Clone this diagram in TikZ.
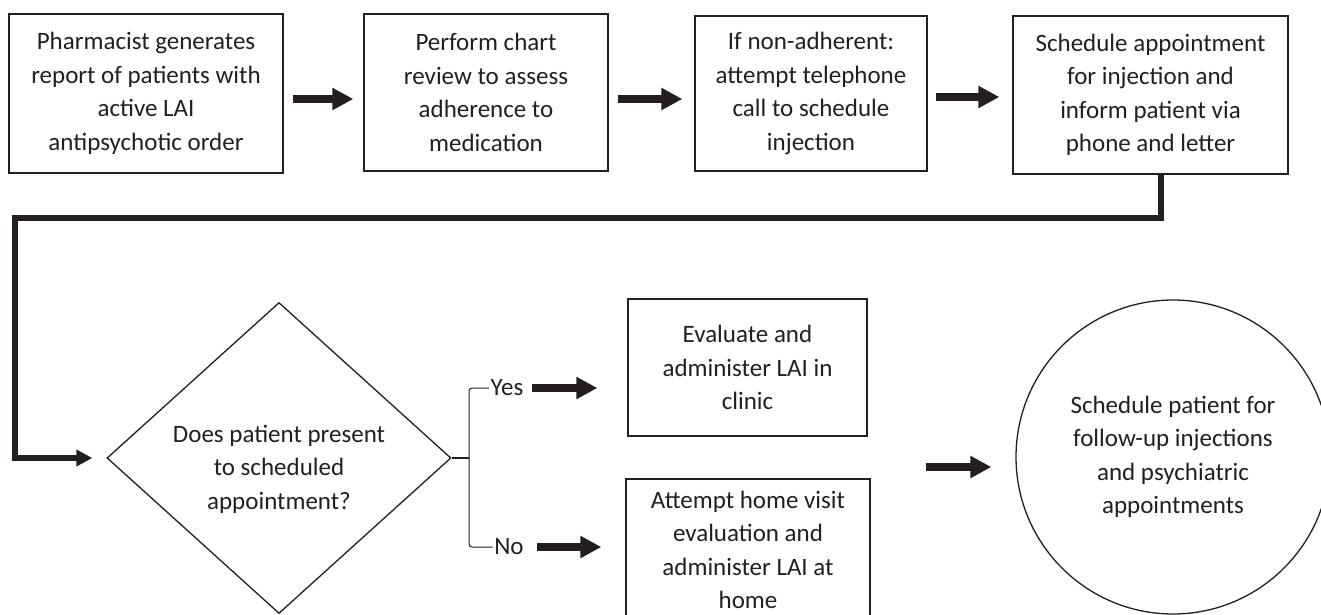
\documentclass[tikz,border=0pt]{standalone}
\usepackage{fontspec}
\setmainfont{Carlito}
\usetikzlibrary{arrows.meta,shapes.geometric}
\definecolor{ink}{RGB}{35,31,32}

\begin{document}
\begin{tikzpicture}[x=1pt,y=-1pt,
    every node/.style={font=\fontsize{25}{33.5}\selectfont, text=ink, align=center},
    stepbox/.style={draw=ink, line width=1.3pt, inner sep=0pt},
    decision/.style={diamond, draw=ink, line width=1.3pt, inner sep=0pt, minimum width=344pt, minimum height=311pt},
    goal/.style={circle, draw=ink, line width=1.3pt, inner sep=0pt, minimum size=314pt},
    fat/.style={draw=ink, line width=7.5pt, -{Triangle[length=21pt,width=21pt]}, shorten <=9pt, shorten >=10pt},
    link/.style={draw=ink, line width=5.5pt, -{Triangle[length=16pt,width=16pt]}, line join=miter},
    fork/.style={draw=ink, line width=1pt, rounded corners=3pt}]
    \useasboundingbox (0,0) rectangle (1321,614);
    \clip (0,0) rectangle (1321,614);
    % top row
    \node [stepbox, minimum width=274pt, minimum height=159pt] (report) at (146,93.5) {Pharmacist generates\\report of patients with\\active LAI\\antipsychotic order};
    \node [stepbox, minimum width=244pt, minimum height=157pt] (review) at (486,92.5) {Perform chart\\review to assess\\adherence to\\medication};
    \node [stepbox, minimum width=232pt, minimum height=155pt] (phonecall) at (811,93.5) {If non-adherent:\\attempt telephone\\call to schedule\\injection};
    \node [stepbox, minimum width=275pt, minimum height=158pt] (notify) at (1150.5,95) {Schedule appointment\\for injection and\\inform patient via\\phone and letter};
    \draw [fat] ([yshift=-5.5pt]report.east) -- ([yshift=-6.5pt]review.west);
    \draw [fat, shorten >=12pt] ([yshift=-6.5pt]review.east) -- ([yshift=-5.5pt]phonecall.west);
    \draw [fat, shorten <=8pt, shorten >=13pt] ([yshift=-3.5pt]phonecall.east) -- ([yshift=-2pt]notify.west);
    % decision
    \node [decision] (present) at (279,458) {};
    \node (presentq) at (279,469) {Does patient present\\to scheduled\\appointment?};
    \coordinate (turn) at (15,218);
    \draw [link, shorten >=14pt] ([xshift=10.5pt]notify.south) |- (turn) |- (present.west);
    \node [inner sep=1.5pt] (yes) at (507,388) {Yes};
    \node [inner sep=1.5pt] (no) at (509,547) {No};
    \coordinate (split) at (469,458);
    \draw [draw=ink, line width=2pt] (present.east) -- (split);
    \draw [fork] (yes.west) -| (split) |- (no.west);
    % outcomes
    \node [stepbox, minimum width=239pt, minimum height=137pt] (clinic) at (747.5,367.5) {Evaluate and\\administer LAI in\\clinic};
    \node [stepbox, minimum width=244pt, minimum height=142pt] (home) at (748,550) {Attempt home visit\\evaluation and\\administer LAI at\\home};
    \draw [fat, shorten <=7pt, shorten >=30pt] (yes.east) -- (yes.east -| clinic.west);
    \draw [fat, shorten <=12pt, shorten >=24pt] (no.east) -- (no.east -| home.west);
    \node [goal] (followup) at (1173,457) {Schedule patient for\\follow-up injections\\and psychiatric\\appointments};
    \coordinate (join) at (926,467);
    \draw [fat, shorten <=0pt, shorten >=24pt] (join) -- (join -| followup.west);
\end{tikzpicture}
\end{document}
